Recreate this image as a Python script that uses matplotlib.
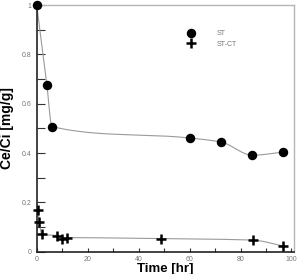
"""
Ce/Ci vs time for ST and ST-CT, smooth curves through measured points.
"""

import numpy as np
import matplotlib
matplotlib.use("Agg")
import matplotlib.pyplot as plt
from matplotlib.ticker import MultipleLocator

st_time = [0, 4, 6, 60, 72.5, 84.7, 96.7]
st_ratio = [1.0, 0.676, 0.507, 0.461, 0.444, 0.391, 0.404]

stct_time = [0.5, 1, 2, 8, 10, 12, 48.6, 84.8, 96.7]
stct_ratio = [0.169, 0.122, 0.071, 0.065, 0.051, 0.057, 0.053, 0.047, 0.023]

y_ticks = [0, 0.2, 0.4, 0.6, 0.8, 1.0]
y_tick_labels = ["0", "0.2", "0.4", "0.6", "0.8", "1"]


def pchip(x, y, n=400):
    """Shape-preserving cubic through the points (numpy only)."""
    x = np.asarray(x, float)
    y = np.asarray(y, float)
    h = np.diff(x)
    d = np.diff(y) / h
    m = np.zeros_like(y)
    for k in range(1, len(x) - 1):
        if d[k - 1] * d[k] > 0:
            w1 = 2 * h[k] + h[k - 1]
            w2 = h[k] + 2 * h[k - 1]
            m[k] = (w1 + w2) / (w1 / d[k - 1] + w2 / d[k])
    m[0] = d[0]
    m[-1] = d[-1]
    xs = np.linspace(x[0], x[-1], n)
    idx = np.clip(np.searchsorted(x, xs) - 1, 0, len(x) - 2)
    t = (xs - x[idx]) / h[idx]
    h00 = 2 * t**3 - 3 * t**2 + 1
    h10 = t**3 - 2 * t**2 + t
    h01 = -2 * t**3 + 3 * t**2
    h11 = t**3 - t**2
    ys = (h00 * y[idx] + h10 * h[idx] * m[idx]
          + h01 * y[idx + 1] + h11 * h[idx] * m[idx + 1])
    return xs, ys


plt.rcParams["font.family"] = ["Liberation Sans", "DejaVu Sans"]

fig = plt.figure(figsize=(2.97, 2.74), dpi=100)
ax = fig.add_axes([36.7 / 297, 22.3 / 274, 257.3 / 297, 246.7 / 274])

line_color = "#9a9a9a"

# Smooth curves
xs, ys = pchip(st_time, st_ratio)
ax.plot(xs, ys, color=line_color, lw=0.8, zorder=2)
xs, ys = pchip(stct_time, stct_ratio)
ax.plot(xs, ys, color=line_color, lw=0.8, zorder=2)

# Data points
ax.plot(st_time, st_ratio, "o", color="black", ms=5.8, ls="none",
        label="ST", clip_on=False, zorder=3)
ax.plot(stct_time, stct_ratio, "+", color="black", ms=6.5, mew=1.8,
        ls="none", label="ST-CT", clip_on=False, zorder=3)

ax.set_xlim(0, 101)
ax.set_ylim(0, 1.0)

ax.xaxis.set_major_locator(MultipleLocator(20))
ax.xaxis.set_minor_locator(MultipleLocator(10))
ax.set_yticks(y_ticks)
ax.set_yticklabels(y_tick_labels)
ax.yaxis.set_minor_locator(MultipleLocator(0.1))

ax.tick_params(axis="both", which="both", direction="in",
               labelsize=5, labelcolor="#777777", color="#333333")
ax.tick_params(axis="y", which="both", length=5.5, width=0.8, pad=3.5)
ax.tick_params(axis="x", which="both", length=3, width=0.8, pad=3)

for side in ["left", "bottom"]:
    ax.spines[side].set_color("#222222")
    ax.spines[side].set_linewidth(1.2)
for side in ["top", "right"]:
    ax.spines[side].set_color("#b5b5b5")
    ax.spines[side].set_linewidth(1.0)

ax.set_xlabel("Time [hr]", fontsize=9.5, fontweight="bold", labelpad=0)
ax.set_ylabel("Ce/Ci [mg/g]", fontsize=10, fontweight="bold", labelpad=6)

leg = ax.legend(loc="upper left", bbox_to_anchor=(0.572, 0.897),
                frameon=False, fontsize=5, handlelength=2,
                handletextpad=2.75, borderpad=0, borderaxespad=0,
                labelspacing=0.45, labelcolor="#777777")

fig.savefig("out.png", dpi=100)
